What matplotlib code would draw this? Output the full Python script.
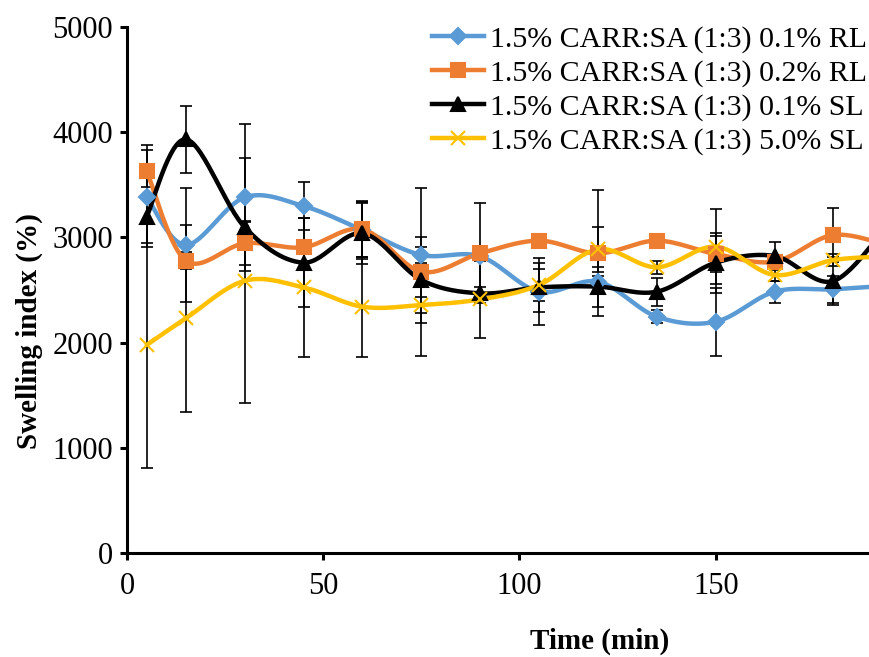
import numpy as np
import matplotlib
matplotlib.use('Agg')
import matplotlib.pyplot as plt

# time points (min); the last one lies just past the visible axis
time = [5, 15, 30, 45, 60, 75, 90, 105, 120, 135, 150, 165, 180, 195]

rl01 = [3387, 2928, 3381, 3298, 3070, 2833, 2820, 2484, 2579, 2246, 2199, 2484, 2507, 2545]
rl01_err = [444, 545, 700, 226, 280, 80, 40, 320, 50, 63, 323, 105, 130, 0]

rl02 = [3634, 2779, 2944, 2906, 3077, 2674, 2849, 2969, 2849, 2969, 2842, 2770, 3023, 2910]
rl02_err = [244, 80, 205, 50, 260, 800, 475, 60, 600, 40, 170, 60, 254, 0]

sl01 = [3197, 3932, 3096, 2760, 3039, 2595, 2468, 2525, 2532, 2484, 2760, 2823, 2586, 3180]
sl01_err = [285, 317, 60, 420, 290, 412, 64, 230, 190, 133, 285, 136, 230, 0]

sl50 = [1977, 2231, 2588, 2525, 2341, 2357, 2411, 2548, 2887, 2716, 2912, 2643, 2785, 2820]
sl50_err = [1172, 890, 1165, 659, 475, 80, 370, 150, 215, 60, 358, 60, 60, 0]

labels = ['1.5% CARR:SA (1:3) 0.1% RL', '1.5% CARR:SA (1:3) 0.2% RL',
          '1.5% CARR:SA (1:3) 0.1% SL', '1.5% CARR:SA (1:3) 5.0% SL']
colors = ['#5B9BD5', '#ED7D31', '#000000', '#FFC000']
markers = ['D', 's', '^', 'x']
msizes = [8, 10, 10, 10]


def smooth(x, y, n=30):
    # excel-like smoothed line (bezier through the points)
    p = np.column_stack([x, y]).astype(float)
    p = np.vstack([p[0], p, p[-1]])
    t = np.linspace(0, 1, n)[:, None]
    out = []
    for i in range(1, len(p) - 2):
        p0, p1, p2, p3 = p[i - 1], p[i], p[i + 1], p[i + 2]
        c1 = p1 + (p2 - p0) / 6
        c2 = p2 - (p3 - p1) / 6
        seg = ((1 - t) ** 3 * p1 + 3 * (1 - t) ** 2 * t * c1
               + 3 * (1 - t) * t ** 2 * c2 + t ** 3 * p2)
        out.append(seg)
    out = np.vstack(out)
    return out[:, 0], out[:, 1]


plt.rcParams['font.family'] = ['Liberation Serif', 'DejaVu Serif']

fig = plt.figure(figsize=(8.7, 6.57), dpi=100)
ax = fig.add_axes([127 / 870, 104 / 657, 743 / 870, 526 / 657])

series = [(rl01, rl01_err), (rl02, rl02_err), (sl01, sl01_err), (sl50, sl50_err)]

for (vals, err) in series:
    ax.errorbar(time, vals, yerr=err, fmt='none', ecolor='black',
                elinewidth=1.2, capsize=4.5, capthick=1.2, zorder=1)

handles = []
for (vals, err), c, m, ms, lab in zip(series, colors, markers, msizes, labels):
    xs, ys = smooth(time, vals)
    ax.plot(xs, ys, color=c, lw=3.2, zorder=2, solid_capstyle='round')
    ax.plot(time, vals, linestyle='none', marker=m, color=c, ms=ms,
            mew=1.5, zorder=3)
    h, = ax.plot([], [], color=c, lw=3.2, marker=m, ms=ms, mew=1.5, label=lab)
    handles.append(h)

ax.set_xlim(0, 189.3)
ax.set_ylim(0, 5000)
ax.set_xticks([0, 50, 100, 150])
ax.set_yticks([0, 1000, 2000, 3000, 4000, 5000])

for s in ['top', 'right']:
    ax.spines[s].set_visible(False)
for s in ['left', 'bottom']:
    ax.spines[s].set_linewidth(2.2)

ax.tick_params(axis='both', direction='out', length=5, width=2.2, labelsize=22)
ax.tick_params(axis='y', pad=5)
ax.tick_params(axis='x', pad=9)

ax.set_xlabel('Time (min)', fontsize=21, fontweight='bold')
ax.set_ylabel('Swelling index (%)', fontsize=21, fontweight='bold')
ax.xaxis.set_label_coords(0.636, -0.142)
ax.yaxis.set_label_coords(-0.113, 0.422)

fig.legend(handles=handles, loc='upper right', bbox_to_anchor=(0.997, 1 - 26 / 657),
           frameon=False, fontsize=21.5, handlelength=1.75, handletextpad=0.2,
           labelspacing=0.22, borderpad=0, borderaxespad=0)

fig.savefig('out.png', dpi=100)
